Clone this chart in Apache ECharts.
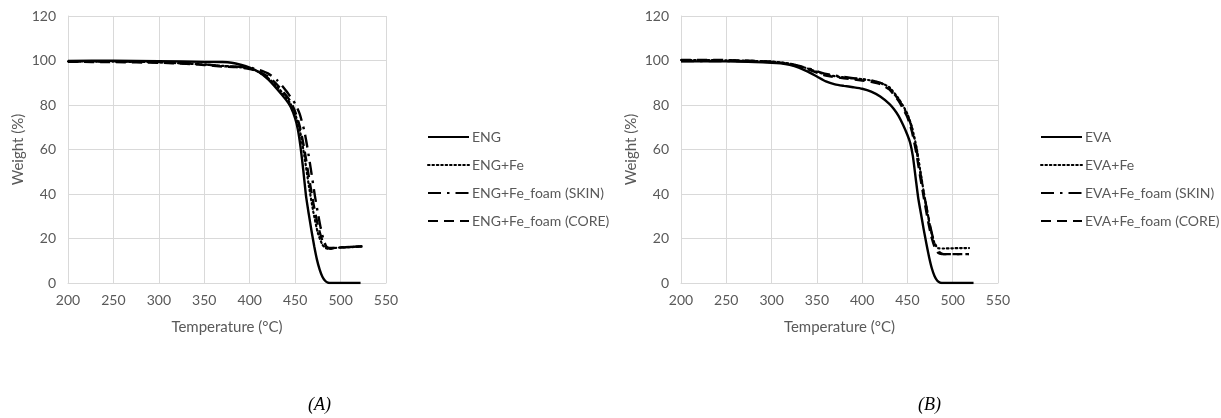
<!DOCTYPE html>
<html>
<head>
<meta charset="utf-8">
<script src="https://cdn.jsdelivr.net/npm/echarts@6/dist/echarts.min.js"></script>
<style>
  html, body { margin: 0; padding: 0; background: #fff; }
  #chart { width: 1221px; height: 418px; }
</style>
</head>
<body>
<div id="chart"></div>
<script>
// TGA curves: [temperature °C, weight %]
const engNames = ['ENG', 'ENG+Fe', 'ENG+Fe_foam (SKIN)', 'ENG+Fe_foam (CORE)'];
const evaNames = ['EVA', 'EVA+Fe', 'EVA+Fe_foam (SKIN)', 'EVA+Fe_foam (CORE)'];
const xTicks = [200, 250, 300, 350, 400, 450, 500, 550];
const yTicks = [0, 20, 40, 60, 80, 100, 120];
const panelLabels = ['(A)', '(B)'];

const eng = [[200,99.8],[250,99.9],[300,99.7],[350,99.4],[370,99.3],[380,99],[390,98.1],[400,96.8],[410,94.8],[420,91.6],[430,87.2],[440,82.3],[445,79.2],[450,74],[453,69],[456,61],[459,50.5],[462,39],[465,31],[468,23.5],[471,16.5],[474,10.5],[477,6],[480,2.8],[483,1],[486,0.2],[490,0],[500,0],[510,0],[522,0]];
const engFe = [[200,99.6],[250,99.5],[300,99.2],[330,98.6],[350,98.2],[370,97.6],[385,97.2],[400,96.3],[410,94.8],[420,92.2],[430,88.4],[440,83.4],[445,80.5],[450,76],[455,69],[460,57.5],[465,44],[470,32],[475,22.5],[480,17.2],[484,15.6],[488,15.4],[495,15.8],[505,16],[515,16.2],[523,16.4]];
const engSkin = [[200,99.5],[250,99.6],[300,99.3],[330,98.8],[350,98.3],[365,97.6],[380,97.3],[390,97.2],[400,96.8],[410,95.8],[420,94.2],[430,91.2],[440,86.4],[445,83.6],[450,80.6],[455,76],[460,68.5],[463,62],[466,54.5],[469,46.5],[472,38.5],[475,31.5],[478,25],[481,19.8],[484,16.6],[487,15.8],[490,15.7],[500,16],[510,16.2],[524,16.5]];
const engCore = [[200,99.4],[250,99.3],[300,99],[330,98.5],[350,98],[370,97.3],[385,97],[400,96.2],[410,95],[420,92.8],[430,89.2],[440,84.4],[445,81.5],[450,77],[455,70.5],[460,60.5],[465,48],[470,36],[475,26],[480,19],[484,16.2],[488,15.5],[495,15.9],[505,16.1],[515,16.3],[523,16.4]];

const eva = [[200,99.6],[250,99.6],[300,99],[310,98.7],[320,98],[330,96.8],[340,95],[350,92.8],[360,90.6],[370,89.3],[380,88.6],[390,88],[400,87.3],[410,86],[420,83.8],[430,80.5],[435,78.2],[440,75.2],[445,71.2],[450,66.5],[453,63],[456,57],[459,47.5],[462,38],[465,31],[468,24],[471,17.5],[474,11.5],[477,6.5],[480,3],[483,1],[486,0.2],[490,0],[500,0],[510,0],[523,0]];
const evaFe = [[200,100.2],[250,100.1],[300,99.5],[320,98.6],[340,96.4],[360,93.6],[380,92.4],[400,91.6],[410,91],[420,90],[430,88],[440,83],[445,79.8],[450,76],[455,70],[460,61],[464,51],[468,41],[472,32],[476,23.5],[480,17.8],[484,15.6],[490,15.5],[500,15.6],[510,15.7],[518,15.7]];
const evaSkin = [[200,99.8],[250,99.8],[300,99.3],[320,98.5],[340,96.5],[360,94],[380,92.6],[400,91.5],[410,91],[420,90],[430,87.6],[440,82.6],[445,79.2],[450,75.5],[455,69.5],[460,60],[464,50],[468,40.5],[472,32],[476,24],[479,19],[482,16],[486,13.6],[490,13],[500,13],[510,13],[518,13]];
const evaCore = [[200,100.3],[250,100.2],[300,99.5],[320,98.4],[340,96],[360,93.2],[380,92],[400,91],[410,90.4],[420,89.4],[430,87],[440,82],[445,78.4],[450,74.5],[455,68],[460,58],[464,48],[468,38.5],[472,29.5],[476,21.5],[480,16.2],[484,13.5],[488,13],[500,13],[510,13],[518,13]];

const engData = [eng, engFe, engSkin, engCore];
const evaData = [eva, evaFe, evaSkin, evaCore];

const grey = '#595959';
const gridGrey = '#d9d9d9';
const font = 'Lato';

// line styles shared by both panels: solid, round dot, long dash-dot, dash
const styles = [
  { type: 'solid', width: 2.4 },
  { type: [1.6, 2.8], width: 2.2, cap: 'round' },
  { type: [13, 6, 2.5, 6], width: 2.4 },
  { type: [10, 6], width: 2.4 }
];

function xAxis(gridIndex) {
  return {
    type: 'value', gridIndex, min: 200, max: 550, interval: 50,
    name: 'Temperature (°C)', nameLocation: 'middle', nameGap: 37,
    nameTextStyle: { color: grey, fontFamily: font, fontSize: 15 },
    axisLine: { show: true, lineStyle: { color: gridGrey, width: 1 } },
    axisTick: { show: false },
    axisLabel: { color: grey, fontFamily: font, fontSize: 14, margin: 10,
      formatter: v => xTicks.includes(v) ? String(v) : '' },
    splitLine: { show: true, lineStyle: { color: gridGrey, width: 1 } }
  };
}
function yAxis(gridIndex) {
  return {
    type: 'value', gridIndex, min: 0, max: 120, interval: 20,
    name: 'Weight (%)', nameLocation: 'middle', nameGap: 42, nameRotate: 90,
    nameTextStyle: { color: grey, fontFamily: font, fontSize: 15 },
    axisLine: { show: true, lineStyle: { color: gridGrey, width: 1 } },
    axisTick: { show: false },
    axisLabel: { color: grey, fontFamily: font, fontSize: 14, margin: 12,
      formatter: v => yTicks.includes(v) ? String(v) : '' },
    splitLine: { show: true, lineStyle: { color: gridGrey, width: 1 } }
  };
}

function makeSeries(names, data, axisIndex) {
  return names.map((n, i) => ({
    name: n, type: 'line', xAxisIndex: axisIndex, yAxisIndex: axisIndex,
    data: data[i], symbol: 'none', smooth: 0.2, animation: false,
    z: 10 - i,
    lineStyle: Object.assign({ color: '#000' }, styles[i]),
    itemStyle: { color: '#000' }
  }));
}

function legend(names, left) {
  return {
    data: names, orient: 'vertical', left, top: 125,
    itemWidth: 41, itemHeight: 14, itemGap: 14,
    selectedMode: false,
    itemStyle: { opacity: 0 },
    textStyle: { color: grey, fontFamily: font, fontSize: 14, padding: [0, 0, 0, -2] }
  };
}

const chart = echarts.init(document.getElementById('chart'), null, { renderer: 'canvas' });
chart.setOption({
  backgroundColor: '#fff',
  animation: false,
  grid: [
    { left: 68, top: 16, width: 318, height: 267 },
    { left: 681, top: 16, width: 317, height: 267 }
  ],
  xAxis: [xAxis(0), xAxis(1)],
  yAxis: [yAxis(0), yAxis(1)],
  legend: [legend(engNames, 422), legend(evaNames, 1035)],
  series: makeSeries(engNames, engData, 0).concat(makeSeries(evaNames, evaData, 1)),
  graphic: [
    { type: 'text', left: 308, top: 396, style: { text: panelLabels[0], fill: '#000',
      font: 'italic 18px "Liberation Serif", serif' } },
    { type: 'text', left: 918, top: 396, style: { text: panelLabels[1], fill: '#000',
      font: 'italic 18px "Liberation Serif", serif' } }
  ]
});
</script>
</body>
</html>
